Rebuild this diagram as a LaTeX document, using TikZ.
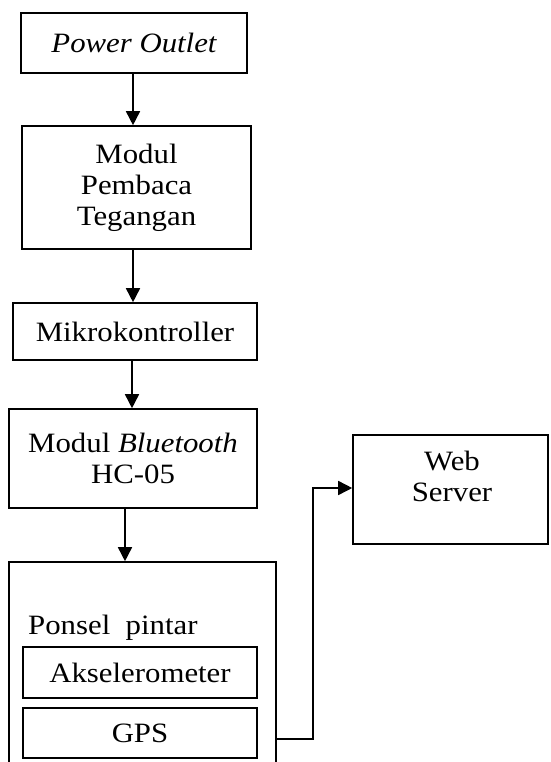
\documentclass[tikz,border=0pt]{standalone}
\usepackage{fontspec}
\setmainfont{Liberation Serif}[FakeStretch=1.1]
\usetikzlibrary{arrows.meta}
\begin{document}
\begin{tikzpicture}[x=1pt,y=-1pt,
  box/.style={draw, line width=1.6pt, inner sep=0pt, align=center,
    font=\fontsize{28}{31}\selectfont},
  txt/.style={inner sep=0pt, align=center, font=\fontsize{28}{31}\selectfont},
  conn/.style={line width=1.6pt, -{Triangle[length=14pt,width=14pt]}}]
\useasboundingbox (0,0) rectangle (550,762);
\clip (0,0) rectangle (550,762);
% boxes
\node[box, minimum width=226pt, minimum height=60pt] (po) at (134,43) {\itshape Power Outlet};
\node[box, minimum width=229pt, minimum height=123pt] (mp) at (136.5,187.5) {Modul\\Pembaca\\Tegangan};
\node[box, minimum width=244pt, minimum height=57pt] (mk) at (135,331.5) {Mikrokontroller};
\node[box, minimum width=248pt, minimum height=99pt] (bt) at (133,458.5) {Modul \textit{Bluetooth}\\HC-05};
\node[box, minimum width=267pt, minimum height=240pt] (ps) at (142.5,682) {};
\node[txt, anchor=base west] (pst) at (28,634) {Ponsel\ \ pintar};
\node[box, minimum width=234pt, minimum height=51pt] (ak) at (140,672.5) {Akselerometer};
\node[box, minimum width=234pt, minimum height=50pt] (gps) at (140,733) {GPS};
\node[box, minimum width=195pt, minimum height=109pt] (ws) at (450.5,489.5) {};
\node[txt] (wst) at (452,476) {Web\\Server};
% connectors
\draw[conn] (po.south -| 133,0) -- (mp.north -| 133,0);
\draw[conn] (mp.south -| 133,0) -- (mk.north -| 133,0);
\draw[conn] (mk.south -| 132,0) -- (bt.north -| 132,0);
\draw[conn] (bt.south -| 125,0) -- (ps.north -| 125,0);
\coordinate (c1) at (313,739);
\coordinate (c2) at (313,488);
\draw[conn] (ps.east |- c1) -- (c1) -- (c2) -- (ws.west |- c2);
\end{tikzpicture}
\end{document}
